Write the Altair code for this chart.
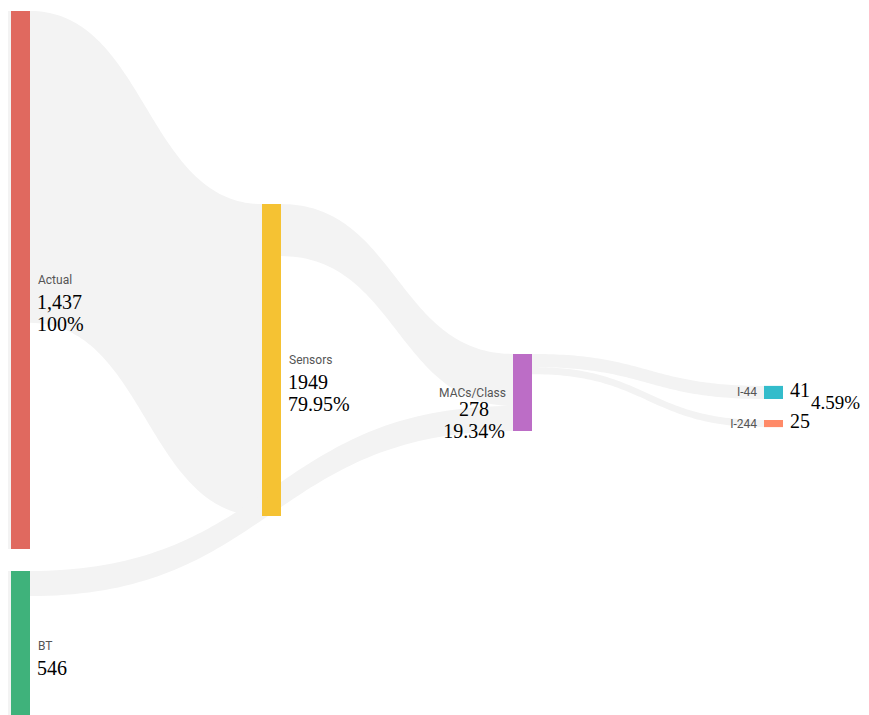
import altair as alt
import pandas as pd
import numpy as np

# ---------------- data ----------------
node_names = ["Actual", "BT", "Sensors", "MACs/Class", "I-44", "I-244"]
node_column = [0, 0, 1, 2, 3, 3]
node_colors = ["#E0695F", "#3FB27B", "#F5C233", "#BC6DC6", "#33BCCB", "#FF8A68"]

# flows entering the first visible column from a column outside the cropped view
inflow_nodes = ["Actual", "BT"]
inflow_values = [1437, 401]

link_source = ["Actual", "Sensors", "BT", "MACs/Class", "MACs/Class"]
link_target = ["Sensors", "MACs/Class", "MACs/Class", "I-44", "I-244"]
link_values = [833, 139, 67, 35, 19]

annotation_nodes = ["Actual", "Actual", "BT", "Sensors", "Sensors",
                    "MACs/Class", "MACs/Class", "I-44", "I-244"]
annotation_texts = ["1,437", "100%", "546", "1949", "79.95%",
                    "278", "19.34%", "41", "25"]
summary_text = "4.59%"

# ---------------- layout ----------------
X_LEFT, X_RIGHT = 8, 861
Y_TOP, Y_BOTTOM = 8, 722
COL_X0 = 11
COL_STEP = 251
NODE_W = 19
K = 538 / 1437            # px per unit
COL0_TOP = 11
COL_CENTER = {1: 360, 2: 392.5, 3: 406.5}
PAD = {0: 22, 1: 20, 2: 20, 3: 21}

val_in = {n: 0.0 for n in node_names}
val_out = {n: 0.0 for n in node_names}
for n, v in zip(inflow_nodes, inflow_values):
    val_in[n] += v
for s, t, v in zip(link_source, link_target, link_values):
    val_out[s] += v
    val_in[t] += v
node_val = {n: max(val_in[n], val_out[n]) for n in node_names}

pos = {}
for c in sorted(set(node_column)):
    members = [n for n, cc in zip(node_names, node_column) if cc == c]
    total = sum(node_val[n] * K for n in members) + PAD[c] * (len(members) - 1)
    top = COL0_TOP if c == 0 else COL_CENTER[c] - total / 2
    for n in members:
        h = node_val[n] * K
        x0 = COL_X0 + c * COL_STEP
        pos[n] = dict(x0=x0, x1=x0 + NODE_W, y0=top, y1=top + h, col=c)
        top += h + PAD[c]

nodes_df = pd.DataFrame({
    "name": node_names,
    "x0": [pos[n]["x0"] for n in node_names],
    "x1": [pos[n]["x1"] for n in node_names],
    "y0": [pos[n]["y0"] for n in node_names],
    "y1": [pos[n]["y1"] for n in node_names],
})

# link stacking offsets
out_off = {n: pos[n]["y0"] for n in node_names}
in_off = {n: pos[n]["y0"] for n in node_names}
rows = []
order_out = sorted(range(len(link_values)), key=lambda i: pos[link_target[i]]["y0"])
src_y = {}
for i in order_out:
    s = link_source[i]
    src_y[i] = out_off[s]
    out_off[s] += link_values[i] * K
order_in = sorted(range(len(link_values)), key=lambda i: pos[link_source[i]]["y0"])
tgt_y = {}
for i in order_in:
    t = link_target[i]
    tgt_y[i] = in_off[t]
    in_off[t] += link_values[i] * K

ts = np.linspace(0, 1, 80)
for i in range(len(link_values)):
    s, t = link_source[i], link_target[i]
    xa, xb = pos[s]["x1"], pos[t]["x0"]
    xm = (xa + xb) / 2
    ya, yb = src_y[i], tgt_y[i]
    w = link_values[i] * K
    for tt in ts:
        bx = (1 - tt) ** 3 * xa + 3 * (1 - tt) ** 2 * tt * xm + 3 * (1 - tt) * tt ** 2 * xm + tt ** 3 * xb
        by = ((1 - tt) ** 3 + 3 * (1 - tt) ** 2 * tt) * ya + (3 * (1 - tt) * tt ** 2 + tt ** 3) * yb
        rows.append(dict(link=f"L{i}", x=bx, y=by, y2=by + w))
# inflow stubs from the cropped column on the left
for j, (n, v) in enumerate(zip(inflow_nodes, inflow_values)):
    for xx in [X_LEFT - 40, pos[n]["x0"]]:
        rows.append(dict(link=f"IN{j}", x=xx, y=pos[n]["y0"], y2=pos[n]["y0"] + v * K))
links_df = pd.DataFrame(rows)

# labels
lab_rows = []
for n in node_names:
    p = pos[n]
    cy = (p["y0"] + p["y1"]) / 2
    if p["col"] <= 1:
        lab_rows.append(dict(text=n, x=p["x1"] + 8, y=cy, kind="name", anchor="left", size=12))
    else:
        lab_rows.append(dict(text=n, x=p["x0"] - 7, y=cy, kind="name", anchor="right", size=12))
counter = {}
for n, txt in zip(annotation_nodes, annotation_texts):
    p = pos[n]
    cy = (p["y0"] + p["y1"]) / 2
    k = counter.get(n, 0)
    counter[n] = k + 1
    if p["col"] <= 1:
        lab_rows.append(dict(text=txt, x=p["x1"] + 7, y=cy + 23 + 22 * k, kind="val", anchor="left", size=20))
    elif p["col"] == 2:
        lab_rows.append(dict(text=txt, x=p["x0"] - 39, y=cy + 17.5 + 21.5 * k, kind="val", anchor="center", size=20))
    else:
        lab_rows.append(dict(text=txt, x=p["x1"] + 7, y=cy - 1.5, kind="val", anchor="left", size=20))
last = [n for n, c in zip(node_names, node_column) if c == 3]
sy = np.mean([(pos[n]["y0"] + pos[n]["y1"]) / 2 for n in last]) - 5
lab_rows.append(dict(text=summary_text, x=pos[last[0]]["x1"] + 28, y=sy, kind="val", anchor="left", size=19))
labels_df = pd.DataFrame(lab_rows)

# ---------------- chart ----------------
xs = alt.Scale(domain=[X_LEFT, X_RIGHT], nice=False, zero=False)
ys = alt.Scale(domain=[Y_TOP, Y_BOTTOM], nice=False, zero=False, reverse=True)

links = alt.Chart(links_df).mark_area(orient="vertical", fill="#F3F3F3", clip=True, interpolate="linear").encode(
    x=alt.X("x:Q", scale=xs, axis=None),
    y=alt.Y("y:Q", scale=ys, axis=None),
    y2="y2:Q",
    detail="link:N",
)

rects = alt.Chart(nodes_df).mark_rect(clip=True).encode(
    x=alt.X("x0:Q", scale=xs, axis=None),
    x2="x1:Q",
    y=alt.Y("y0:Q", scale=ys, axis=None),
    y2="y1:Q",
    color=alt.Color("name:N", scale=alt.Scale(domain=node_names, range=node_colors), legend=None),
)

layers = [links, rects]
for kind, font, color in [("name", "Roboto", "#555555"), ("val", "Liberation Serif", "#000000")]:
    for anchor in ["left", "right", "center"]:
        sub = labels_df[(labels_df["kind"] == kind) & (labels_df["anchor"] == anchor)]
        if len(sub) == 0:
            continue
        layers.append(
            alt.Chart(sub).mark_text(align=anchor, baseline="middle", font=font, color=color).encode(
                x=alt.X("x:Q", scale=xs, axis=None),
                y=alt.Y("y:Q", scale=ys, axis=None),
                text="text:N",
                size=alt.Size("size:Q", scale=None, legend=None),
            )
        )

chart = alt.layer(*layers).properties(
    width=X_RIGHT - X_LEFT,
    height=Y_BOTTOM - Y_TOP,
    padding=0,
    autosize=alt.AutoSizeParams(type="none"),
).configure_view(stroke=None)

chart.save("out.html", embed_options={"renderer": "svg", "actions": False})
